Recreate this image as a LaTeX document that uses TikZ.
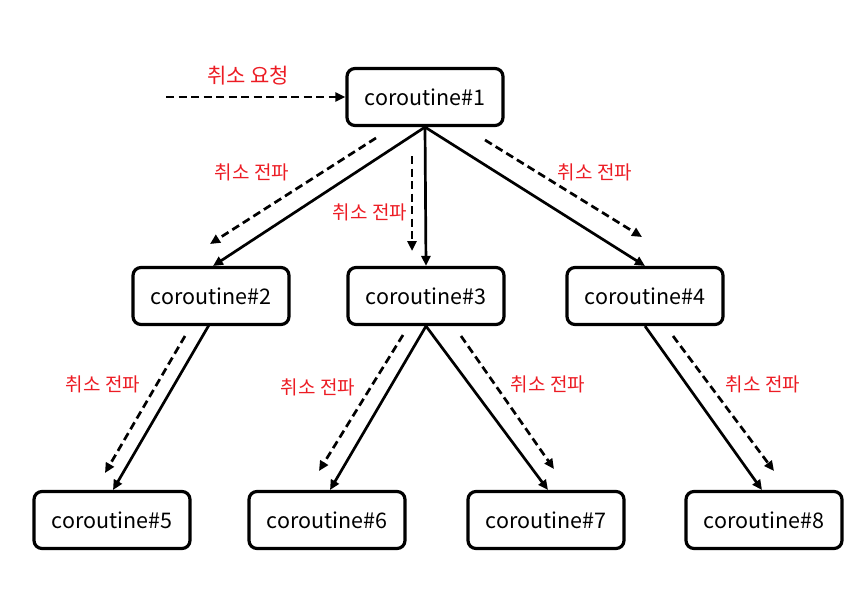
\documentclass[tikz,border=0pt]{standalone}
\usepackage{fontspec}
\setmainfont{Noto Sans CJK KR}
\usetikzlibrary{arrows.meta}
\definecolor{lblred}{RGB}{236,28,36}
\begin{document}
\begin{tikzpicture}[x=1pt,y=-1pt,
  cbox/.style={draw,line width=3.2pt,rounded corners=8pt,minimum width=156pt,minimum height=57pt,font=\fontsize{21.5}{24}\selectfont,inner sep=0pt},
  solidarr/.style={line width=2.7pt,-{Triangle[length=10pt,width=9pt]}},
  dasharr/.style={line width=2.7pt,dash pattern=on 8pt off 4.5pt,-{Triangle[length=10pt,width=9pt]}},
  lbl/.style={text=lblred,font=\fontsize{19}{22}\selectfont,inner sep=0pt}]
\useasboundingbox (0,0) rectangle (864,600);
\node[cbox] (c1) at (425,97) {coroutine\#1};
\node[cbox] (c2) at (211,296) {coroutine\#2};
\node[cbox] (c3) at (426,296) {coroutine\#3};
\node[cbox] (c4) at (645,296) {coroutine\#4};
\node[cbox] (c5) at (112,520) {coroutine\#5};
\node[cbox] (c6) at (327,520) {coroutine\#6};
\node[cbox] (c7) at (546,520) {coroutine\#7};
\node[cbox] (c8) at (764,520) {coroutine\#8};
% solid edges
\draw[solidarr] (c1.south) -- (213,266);
\draw[solidarr] (c1.south) -- (c3.north);
\draw[solidarr] (c1.south) -- (645,266);
\draw[solidarr] (209,325) -- (113,490);
\draw[solidarr] (c3.south) -- (330,490);
\draw[solidarr] (c3.south) -- (548,490);
\draw[solidarr] (c4.south) -- (762,490);
% dashed propagation
\coordinate (rq) at (166,97);
\coordinate (d1a) at (376,138); \coordinate (d1b) at (210,244);
\coordinate (d2a) at (412,156); \coordinate (d2b) at (412,251);
\coordinate (d3a) at (485,140); \coordinate (d3b) at (642,237);
\coordinate (d4a) at (185,336); \coordinate (d4b) at (105,473);
\coordinate (d5a) at (403,335); \coordinate (d5b) at (319,471);
\coordinate (d6a) at (461,336); \coordinate (d6b) at (554,469);
\coordinate (d7a) at (673,336); \coordinate (d7b) at (774,471);
\draw[dasharr] (rq) -- (c1.west);
\draw[dasharr] (d1a) -- (d1b);
\draw[dasharr] (d2a) -- (d2b);
\draw[dasharr] (d3a) -- (d3b);
\draw[dasharr] (d4a) -- (d4b);
\draw[dasharr] (d5a) -- (d5b);
\draw[dasharr] (d6a) -- (d6b);
\draw[dasharr] (d7a) -- (d7b);
% labels
\node[lbl,font=\fontsize{21}{24}\selectfont] (l0) at (248,76) {취소 요청};
\node[lbl] (l1) at (252,172) {취소 전파};
\node[lbl] (l2) at (370,212) {취소 전파};
\node[lbl] (l3) at (595,172) {취소 전파};
\node[lbl] (l4) at (103,384) {취소 전파};
\node[lbl] (l5) at (318,387) {취소 전파};
\node[lbl] (l6) at (548,384) {취소 전파};
\node[lbl] (l7) at (763,384) {취소 전파};
\end{tikzpicture}
\end{document}
